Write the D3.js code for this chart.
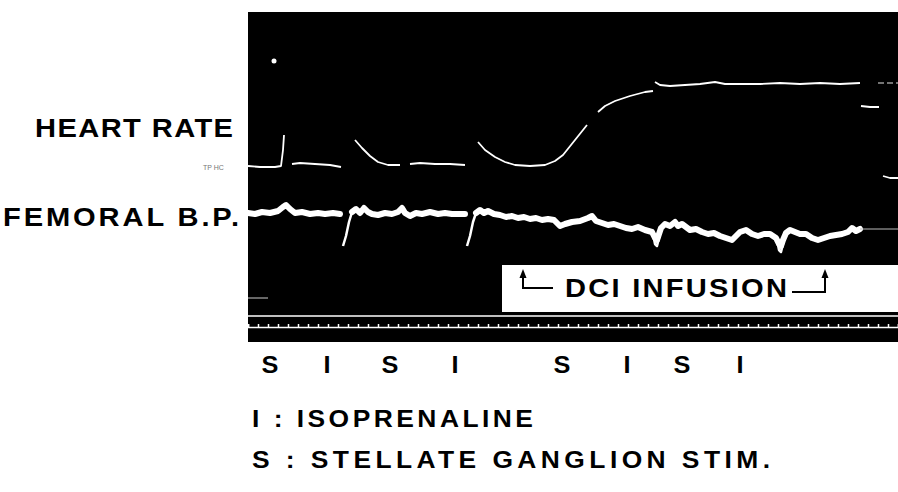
<!DOCTYPE html>
<html><head><meta charset="utf-8">
<script src="https://cdn.jsdelivr.net/npm/d3@7"></script>
<style>html,body{margin:0;padding:0;background:#fff;}svg{display:block;}</style>
</head><body>
<svg id="c" width="898" height="492"></svg>
<script>
// ---- data (time in arbitrary recorder units, amplitude in trace units) ----
const hrSegments = [
  [[0,176],[12,175],[27,175],[33,176],[35,192],[36,207]],
  [[44,178],[52,179],[67,178],[82,177],[93,175]],
  [[107,202],[114,194],[122,186],[130,180],[140,177],[152,177]],
  [[162,178],[172,179],[187,178],[202,178],[217,177]],
  [[230,200],[237,192],[247,185],[257,180],[267,177],[282,176],[297,177],[307,181],[315,187],[319,192],[327,202],[335,212],[339,217]],
  [[350,230],[357,236],[367,241],[382,246],[397,250],[405,251]],
  [[407,260],[412,257],[422,256],[437,257],[452,258],[467,260],[477,258],[492,258],[512,258],[532,259],[552,258],[572,259],[592,258],[612,259]],
  [[613,236],[622,235],[631,235]],
  [[635,166],[642,164],[650,164]]
];
const hrFaint = [[630,259],[650,259]];
const hrDot = [26,281];

const bpSegments = [
  [[0,129],[7,128],[14,130],[22,129],[30,131],[35,135],[38,137],[42,133],[47,129],[54,130],[62,128],[70,129],[77,128],[85,129],[92,128]],
  [[104,130],[108,133],[112,129],[116,134],[120,130],[124,128],[130,127],[137,129],[144,128],[150,130],[154,134],[157,129],[162,126],[168,129],[174,128],[182,130],[190,128],[197,129],[204,128],[212,128],[217,128]],
  [[228,129],[232,132],[236,129],[240,131],[246,128],[252,127],[258,125],[264,126],[270,124],[276,125],[282,123],[288,124],[294,122],[300,123],[306,122],[312,116],[317,118],[324,120],[332,121],[340,124],[344,126],[348,121],[354,119],[360,117],[366,118],[372,116],[378,114],[384,113],[390,115],[397,112],[404,110],[407,104],[409,102],[411,108],[413,114],[417,118],[422,116],[427,120],[430,116],[434,118],[438,115],[442,112],[448,113],[454,110],[460,108],[466,109],[472,106],[478,104],[484,102],[488,106],[492,110],[498,112],[504,108],[510,106],[516,108],[522,108],[528,104],[531,98],[533,96],[535,102],[538,109],[542,112],[547,110],[552,108],[558,108],[564,104],[570,102],[576,104],[582,106],[588,107],[594,108],[600,110],[604,114],[608,111],[612,113]]
];
// thin transient dips that reach below the thick band
const bpDips = [
  [[95,96],[98,106],[101,120],[104,130]],
  [[219,96],[222,106],[225,120],[228,129]],
  [[405,108],[407,98],[409,96],[411,104],[413,112]],
  [[529,102],[531,92],[533,90],[535,98],[538,108]]
];
const bpTail = [[612,113],[650,113]];

const eventLabels = ["S","I","S","I","S","I","S","I"];
const eventTimes  = [22,79,142,207,314,379,434,492];
const infusionStart = 275, infusionEnd = 577;
const legendLines = ["I : ISOPRENALINE","S : STELLATE GANGLION STIM."];

// ---- drawing ----
const svg = d3.select("#c");
const x = d3.scaleLinear().domain([0,650]).range([248,898]);
const y = d3.scaleLinear().domain([0,330]).range([342,12]);
const line = d3.line().x(d=>x(d[0])).y(d=>y(d[1])).curve(d3.curveLinear);
const FONT = "'Liberation Sans', Arial, Helvetica, sans-serif";

function label(txt, x0, y0, size, width, sx){
  svg.append("text").attr("transform",`translate(${x0},${y0}) scale(${sx},1)`)
    .attr("font-family",FONT).attr("font-weight","bold").attr("font-size",size)
    .attr("textLength",width/sx).attr("lengthAdjust","spacing").text(txt);
}

svg.append("rect").attr("x",x(0)).attr("y",y(330)).attr("width",x(650)-x(0)).attr("height",y(0)-y(330)).attr("fill","#000");

// heart-rate trace
svg.append("g").selectAll("path").data(hrSegments).join("path")
  .attr("d",line).attr("fill","none").attr("stroke","#fff").attr("stroke-width",1.8).attr("stroke-linejoin","round");
svg.append("path").attr("d",line(hrFaint)).attr("fill","none").attr("stroke","#999").attr("stroke-width",1.5).attr("stroke-dasharray","6,3");
svg.append("circle").attr("cx",x(hrDot[0])).attr("cy",y(hrDot[1])).attr("r",2.5).attr("fill","#fff");

// blood-pressure trace
svg.append("g").selectAll("path").data(bpSegments).join("path")
  .attr("d",line).attr("fill","none").attr("stroke","#fff").attr("stroke-width",6).attr("stroke-linejoin","round").attr("stroke-linecap","round");
svg.append("g").selectAll("path").data(bpDips).join("path")
  .attr("d",line).attr("fill","none").attr("stroke","#fff").attr("stroke-width",2.5).attr("stroke-linejoin","round");
svg.append("path").attr("d",line(bpTail)).attr("fill","none").attr("stroke","#bbb").attr("stroke-width",1);

// recorder base lines
svg.append("line").attr("x1",x(0)).attr("x2",x(20)).attr("y1",y(44)).attr("y2",y(44)).attr("stroke","#ccc").attr("stroke-width",1);
svg.append("line").attr("x1",x(0)).attr("x2",x(650)).attr("y1",y(26)).attr("y2",y(26)).attr("stroke","#fff").attr("stroke-width",1.5);
const timeAxis = d3.axisTop(x).ticks(50).tickSize(3).tickFormat("");
const ta = svg.append("g").attr("transform",`translate(0,${y(15)})`).call(timeAxis);
ta.selectAll("path,line").attr("stroke","#fff").attr("stroke-width",1.5);

// DCI infusion box
svg.append("rect").attr("x",x(254)).attr("y",y(77)).attr("width",x(650)-x(254)).attr("height",y(30)-y(77)).attr("fill","#fff");
const arr = svg.append("g").attr("stroke","#000").attr("stroke-width",2).attr("fill","none");
arr.append("path").attr("d",`M${x(infusionStart)},${y(70)}V${y(54)}H${x(infusionStart+30)}`);
arr.append("path").attr("d",`M${x(infusionEnd-33)},${y(50)}H${x(infusionEnd)}V${y(70)}`);
svg.append("path").attr("d",`M${x(infusionStart)-3.5},${y(64)}L${x(infusionStart)},${y(73)}L${x(infusionStart)+3.5},${y(64)}Z`).attr("fill","#000");
svg.append("path").attr("d",`M${x(infusionEnd)-3.5},${y(64)}L${x(infusionEnd)},${y(73)}L${x(infusionEnd)+3.5},${y(64)}Z`).attr("fill","#000");
label("DCI INFUSION",565,297,26,222,1.12);

// channel labels
label("HEART RATE",35,137,26,198,1.12);
label("FEMORAL B.P.",3,226,26,236,1.12);
svg.append("text").attr("x",203).attr("y",170).attr("font-family",FONT).attr("font-size",7).attr("fill","#777").text("TP  HC");

// event labels
svg.append("g").selectAll("text").data(eventLabels).join("text")
  .attr("transform",(d,i)=>`translate(${x(eventTimes[i])},373) scale(1.1,1)`).attr("text-anchor","middle")
  .attr("font-family",FONT).attr("font-weight","bold").attr("font-size",23).text(d=>d);

// legend
const legendWidths = [281,518];
legendLines.forEach((t,i)=>label(t,252,427+i*41,24,legendWidths[i],1.1));
</script>
</body></html>
